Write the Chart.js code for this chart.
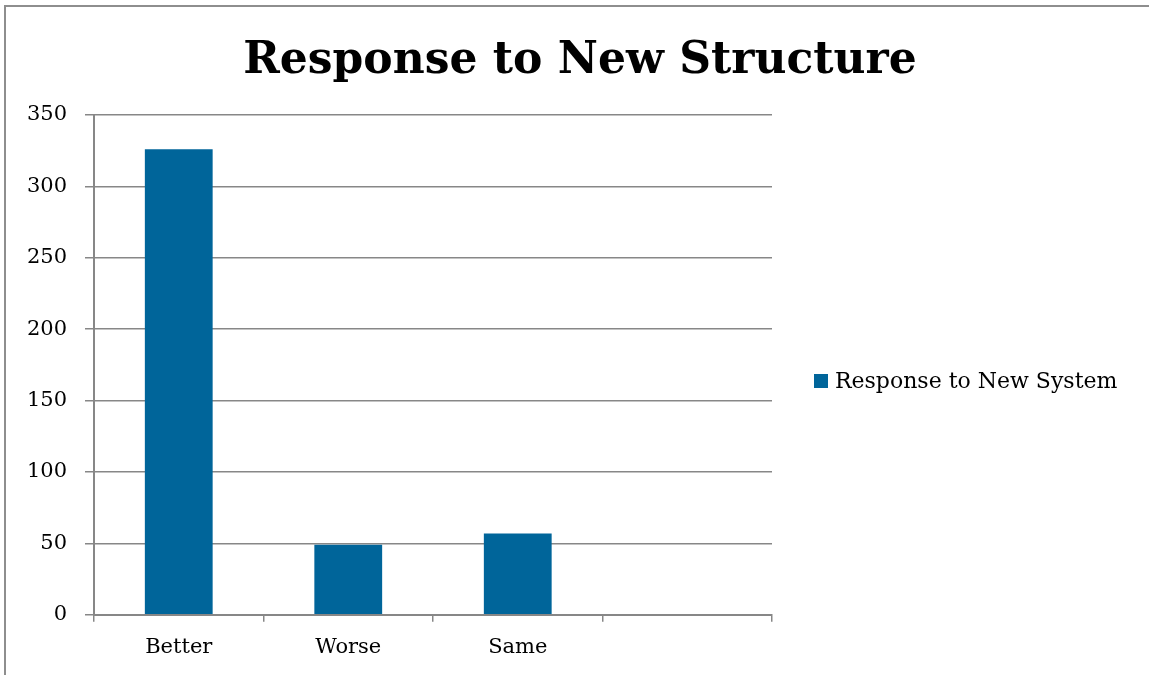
<!DOCTYPE html>
<html>
<head>
<meta charset="utf-8">
<script src="https://cdn.jsdelivr.net/npm/chart.js@4"></script>
<style>
  html, body { margin: 0; padding: 0; background: #fff; }
  #frame {
    position: absolute; left: 4px; top: 5px;
    width: 1200px; height: 720px;
    border-left: 2px solid #8e8e8e; border-top: 2px solid #8e8e8e;
  }
  #wrap { position: absolute; left: 0; top: 0; width: 1149px; height: 675px; }
</style>
</head>
<body>
<div id="frame"></div>
<div id="wrap"><canvas id="chart"></canvas></div>
<script>
// chart data
var chartTitle = "Response to New Structure";
var categories = ["Better", "Worse", "Same", ""];
var seriesName = "Response to New System";
var responseValues = [326, 49, 57, null];
var yTicks = [0, 50, 100, 150, 200, 250, 300, 350];

var serif = "'DejaVu Serif', 'Liberation Serif', serif";
var gridColor = "#878787";
var barColor = "#00659a";

// title centred over the whole frame, legend at the right of the plot
var frameText = {
  id: "frameText",
  afterDraw: function (chart) {
    var c = chart.ctx;
    var ds = chart.data.datasets[0];
    c.save();
    c.fillStyle = "#000";
    c.font = "bold 44px " + serif;
    c.textAlign = "center";
    c.textBaseline = "alphabetic";
    c.fillText(chartTitle, 580, 73);

    var x = 814, y = 381;
    c.fillStyle = ds.backgroundColor;
    c.fillRect(x, y - 7, 14, 14);
    c.fillStyle = "#000";
    c.font = "22px " + serif;
    c.textBaseline = "middle";
    c.textAlign = "left";
    c.fillText(ds.label, x + 21, y + 1);
    c.restore();
  }
};

var ctx = document.getElementById("chart");
var chart = new Chart(ctx, {
  type: "bar",
  data: {
    labels: categories,
    datasets: [{
      label: seriesName,
      data: responseValues,
      backgroundColor: barColor,
      borderWidth: 0,
      categoryPercentage: 0.8,
      barPercentage: 0.5
    }]
  },
  options: {
    responsive: true,
    maintainAspectRatio: false,
    animation: false,
    layout: { padding: { left: 10, right: 377, top: 115, bottom: 2 } },
    plugins: {
      title: { display: false },
      legend: { display: false },
      tooltip: { enabled: false }
    },
    scales: {
      x: {
        offset: true,
        grid: {
          offset: true,
          drawOnChartArea: false,
          color: gridColor,
          tickLength: 7,
          lineWidth: 1.5
        },
        border: { color: gridColor, width: 2 },
        ticks: { color: "#000", font: { family: serif, size: 21 }, padding: 13 }
      },
      y: {
        min: 0,
        max: 350,
        afterBuildTicks: function (scale) {
          scale.ticks = yTicks.map(function (v) { return { value: v }; });
        },
        afterFit: function (scale) { scale.width = 84; },
        grid: { color: gridColor, lineWidth: 1.5, tickLength: 9 },
        border: { color: gridColor, width: 2 },
        ticks: { color: "#000", font: { family: serif, size: 21 }, padding: 18 }
      }
    }
  },
  plugins: [frameText]
});
</script>
</body>
</html>
